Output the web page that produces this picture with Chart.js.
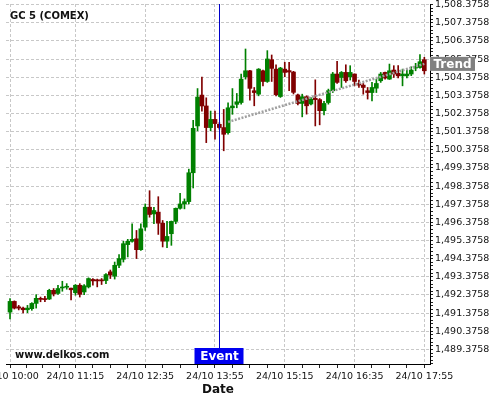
<!DOCTYPE html>
<html>
<head>
<meta charset="utf-8">
<script src="https://cdn.jsdelivr.net/npm/chart.js@4.4.1/dist/chart.umd.min.js"></script>
<style>
  html, body { margin: 0; padding: 0; background: #fff; }
</style>
</head>
<body>
<canvas id="chart-candles" width="500" height="400"></canvas>
<script>
// GC 5 (COMEX) - 5 minute candles, 24/10 10:00 -> 17:55
var startMinute = 600;
var stepMinutes = 5;

var opens = [
  1491.43, 1492.02, 1491.72, 1491.65, 1491.56, 1491.62, 1491.91, 1492.19, 1492.15, 1492.15,
  1492.63, 1492.46, 1492.76, 1492.80, 1492.75, 1492.50, 1492.91, 1492.54, 1492.82, 1493.23,
  1493.21, 1493.21, 1493.17, 1493.65, 1493.41, 1494.01, 1494.34, 1495.15, 1495.33, 1495.47,
  1494.87, 1496.11, 1497.21, 1496.84, 1496.94, 1496.33, 1495.34, 1495.75, 1496.43, 1497.15,
  1497.39, 1497.52, 1499.11, 1501.69, 1503.39, 1502.79, 1501.60, 1502.05, 1501.78, 1501.60,
  1501.32, 1502.69, 1502.88, 1502.98, 1504.40, 1504.73, 1503.63, 1503.44, 1504.73, 1504.14,
  1505.34, 1504.82, 1503.31, 1504.82, 1504.74, 1504.66, 1503.40, 1502.93, 1503.30, 1502.90,
  1503.21, 1503.14, 1502.53, 1502.98, 1503.63, 1504.55, 1504.36, 1504.64, 1504.40, 1504.55,
  1504.03, 1503.94, 1503.63, 1503.53, 1503.77, 1504.18, 1504.64, 1504.27, 1504.77, 1504.60,
  1504.45, 1504.45, 1504.55, 1504.88, 1504.91, 1505.34
];
var highs = [
  1492.17, 1492.05, 1491.80, 1491.71, 1491.80, 1491.95, 1492.39, 1492.26, 1492.30, 1492.69,
  1492.73, 1492.91, 1493.13, 1493.00, 1492.76, 1492.95, 1493.00, 1492.95, 1493.32, 1493.28,
  1493.25, 1493.28, 1493.56, 1493.75, 1494.19, 1494.60, 1495.33, 1495.44, 1496.30, 1495.93,
  1496.30, 1497.39, 1498.12, 1497.21, 1497.79, 1496.48, 1496.43, 1496.45, 1497.17, 1497.98,
  1497.67, 1499.31, 1502.00, 1503.75, 1504.38, 1503.24, 1502.51, 1502.51, 1501.87, 1502.60,
  1502.97, 1503.75, 1503.48, 1504.55, 1505.93, 1504.75, 1503.81, 1504.85, 1504.77, 1505.84,
  1505.60, 1505.06, 1504.92, 1505.20, 1505.20, 1504.70, 1503.45, 1503.44, 1503.35, 1503.25,
  1504.23, 1503.20, 1503.05, 1503.72, 1504.64, 1505.25, 1504.69, 1505.06, 1505.01, 1504.56,
  1504.22, 1504.03, 1503.81, 1504.09, 1504.27, 1504.64, 1504.66, 1505.10, 1505.01, 1505.01,
  1504.82, 1504.77, 1504.95, 1505.14, 1505.62, 1505.47
];
var lows = [
  1491.06, 1491.60, 1491.55, 1491.39, 1491.40, 1491.53, 1491.65, 1492.00, 1492.00, 1492.12,
  1492.32, 1492.40, 1492.58, 1492.69, 1492.10, 1492.36, 1492.26, 1492.39, 1492.76, 1492.91,
  1492.82, 1492.95, 1493.00, 1493.28, 1493.25, 1493.88, 1494.19, 1494.47, 1495.29, 1494.38,
  1494.83, 1495.93, 1496.66, 1496.30, 1495.71, 1495.02, 1494.98, 1495.11, 1496.30, 1497.10,
  1497.12, 1497.39, 1498.27, 1501.42, 1502.51, 1500.77, 1501.42, 1500.96, 1501.51, 1500.32,
  1501.23, 1502.33, 1502.69, 1502.89, 1504.27, 1503.11, 1502.80, 1503.35, 1503.90, 1504.09,
  1504.14, 1503.35, 1503.26, 1504.40, 1503.64, 1503.45, 1502.85, 1502.19, 1502.34, 1502.85,
  1501.69, 1501.75, 1502.30, 1502.89, 1503.53, 1504.03, 1503.81, 1504.09, 1504.22, 1503.90,
  1503.81, 1503.44, 1503.17, 1503.07, 1503.53, 1504.09, 1504.27, 1504.25, 1504.36, 1504.33,
  1503.90, 1504.33, 1504.46, 1504.73, 1504.88, 1504.55
];
var closes = [
  1492.02, 1491.65, 1491.65, 1491.56, 1491.65, 1491.91, 1492.19, 1492.13, 1492.12, 1492.63,
  1492.43, 1492.73, 1492.79, 1492.85, 1492.66, 1492.91, 1492.41, 1492.88, 1493.28, 1493.15,
  1493.15, 1493.15, 1493.50, 1493.47, 1494.01, 1494.38, 1495.20, 1495.33, 1495.44, 1494.87,
  1496.02, 1497.21, 1496.81, 1497.03, 1496.33, 1495.34, 1495.60, 1496.43, 1497.15, 1497.39,
  1497.52, 1499.11, 1501.56, 1503.28, 1502.79, 1501.60, 1502.05, 1501.82, 1501.60, 1501.23,
  1502.69, 1502.79, 1503.02, 1504.27, 1504.73, 1503.76, 1503.53, 1504.82, 1504.14, 1505.38,
  1504.86, 1503.41, 1504.88, 1504.64, 1504.66, 1503.54, 1502.93, 1503.30, 1502.80, 1503.17,
  1503.14, 1502.53, 1502.93, 1503.63, 1504.55, 1504.09, 1504.64, 1504.18, 1504.64, 1504.14,
  1503.94, 1503.81, 1503.53, 1503.81, 1504.03, 1504.55, 1504.33, 1504.73, 1504.55, 1504.45,
  1504.55, 1504.55, 1504.77, 1504.95, 1505.23, 1504.73
];

// trend line (minutes from midnight, price)
var trendMinutes = [850, 1075];
var trendPrices = [1501.91, 1505.11];

var eventMinute = 840;

// axis ticks
var timeTicks = [600, 675, 755, 835, 915, 995, 1075];
var priceTicks = [
  1489.3758, 1490.3758, 1491.3758, 1492.3758, 1493.3758, 1494.3758, 1495.3758,
  1496.3758, 1497.3758, 1498.3758, 1499.3758, 1500.3758, 1501.3758, 1502.3758,
  1503.3758, 1504.3758, 1505.3758, 1506.3758, 1507.3758, 1508.3758
];

var GREEN = '#008000';
var RED = '#800000';

function pad2(n) { return (n < 10 ? '0' : '') + n; }
function fmtTime(m) { return '24/10 ' + pad2(Math.floor(m / 60)) + ':' + pad2(Math.round(m % 60)); }
function fmtPrice(v) {
  var s = v.toFixed(4);
  var parts = s.split('.');
  return parts[0].replace(/\B(?=(\d{3})+(?!\d))/g, ',') + '.' + parts[1];
}
function isMajorTime(v) { return timeTicks.indexOf(Math.round(v)) >= 0 && Math.abs(v - Math.round(v)) < 0.01; }
function isMajorPrice(v) {
  for (var i = 0; i < priceTicks.length; i++) {
    if (Math.abs(priceTicks[i] - v) < 0.001) return true;
  }
  return false;
}

// minor ticks: 3 between each pair of labelled times, every 0.2 on price
var xTickValues = [];
for (var i = 0; i < timeTicks.length; i++) {
  xTickValues.push(timeTicks[i]);
  if (i < timeTicks.length - 1) {
    var gap = (timeTicks[i + 1] - timeTicks[i]) / 4;
    for (var k = 1; k < 4; k++) xTickValues.push(timeTicks[i] + gap * k);
  }
}
var yTickValues = [];
for (var p = 0; p <= 99; p++) yTickValues.push(1488.5758 + p * 0.2);

var times = opens.map(function(o, i) { return startMinute + stepMinutes * i; });
var candleColors = opens.map(function(o, i) { return closes[i] >= o ? GREEN : RED; });

var wickData = times.map(function(t, i) { return { x: t, y: [lows[i], highs[i]] }; });
var bodyData = times.map(function(t, i) { return { x: t, y: [opens[i], closes[i]] }; });
var trendData = trendMinutes.map(function(t, i) { return { x: t, y: trendPrices[i] }; });

var overlayPlugin = {
  id: 'overlay',
  afterDraw: function(chart) {
    var ctx = chart.ctx;
    var area = chart.chartArea;
    var xs = chart.scales.x;
    var ys = chart.scales.y;
    ctx.save();

    // title & watermark
    ctx.fillStyle = '#111';
    ctx.font = 'bold 10px "DejaVu Sans"';
    ctx.textAlign = 'left';
    ctx.textBaseline = 'alphabetic';
    ctx.fillText('GC 5 (COMEX)', 10, 19);
    ctx.fillText('www.delkos.com', 15, 358);

    // event marker
    var ex = Math.round(xs.getPixelForValue(eventMinute)) + 0.5;
    ctx.strokeStyle = '#0000c8';
    ctx.lineWidth = 1;
    ctx.beginPath();
    ctx.moveTo(ex, area.top);
    ctx.lineTo(ex, area.bottom - 16);
    ctx.stroke();
    ctx.fillStyle = '#0000f0';
    ctx.fillRect(ex - 25, area.bottom - 16, 49, 16);
    ctx.fillStyle = '#fff';
    ctx.font = 'bold 12px "DejaVu Sans"';
    ctx.textAlign = 'center';
    ctx.textBaseline = 'middle';
    ctx.fillText('Event', ex, area.bottom - 7.5);

    // trend label
    var ty = ys.getPixelForValue(trendPrices[trendPrices.length - 1]);
    ctx.fillStyle = '#808080';
    ctx.fillRect(area.right, ty - 7, 45, 14);
    ctx.fillStyle = '#fff';
    ctx.textAlign = 'left';
    ctx.fillText('Trend', area.right + 3.5, ty + 0.5);

    ctx.restore();
  }
};

var tickFont = { family: 'DejaVu Sans', size: 9.5 };

new Chart(document.getElementById('chart-candles').getContext('2d'), {
  type: 'bar',
  data: {
    datasets: [{
      type: 'line',
      label: 'Trend',
      data: trendData,
      borderColor: '#a0a0a0',
      borderWidth: 2.5,
      borderDash: [2, 1.5],
      pointRadius: 0,
      fill: false,
      order: 0
    }, {
      label: 'Body',
      data: bodyData,
      backgroundColor: candleColors,
      borderWidth: 0,
      barThickness: 4,
      minBarLength: 1,
      grouped: false,
      order: 1
    }, {
      label: 'Wick',
      data: wickData,
      backgroundColor: candleColors,
      borderWidth: 0,
      barThickness: 1,
      grouped: false,
      order: 2
    }]
  },
  options: {
    responsive: false,
    animation: false,
    layout: { padding: { left: 6, top: 4, right: 0, bottom: 0 } },
    plugins: {
      legend: { display: false },
      tooltip: { enabled: false }
    },
    scales: {
      x: {
        type: 'linear',
        min: 595.4,
        max: 1081.5,
        offset: false,
        afterBuildTicks: function(s) { s.ticks = xTickValues.map(function(v) { return { value: v }; }); },
        afterFit: function(s) { s.height = 36; s.paddingLeft = 0; s.paddingRight = 0; },
        ticks: {
          autoSkip: false,
          maxRotation: 0,
          padding: 3,
          color: '#111',
          font: tickFont,
          callback: function(v) { return isMajorTime(v) ? fmtTime(v) : ''; }
        },
        grid: {
          offset: false,
          lineWidth: 1,
          tickLength: 4,
          tickColor: '#222',
          color: function(c) { return c.tick && isMajorTime(c.tick.value) ? '#c8c8c8' : 'rgba(0,0,0,0)'; }
        },
        border: { display: true, color: '#000', width: 1, dash: [3, 2] },
        title: {
          display: true,
          text: 'Date',
          color: '#111',
          font: { family: 'DejaVu Sans', size: 12, weight: 'bold' },
          padding: { top: 0, bottom: 3 }
        }
      },
      y: {
        type: 'linear',
        position: 'right',
        min: 1488.57,
        max: 1508.41,
        beginAtZero: false,
        afterBuildTicks: function(s) { s.ticks = yTickValues.map(function(v) { return { value: v }; }); },
        afterFit: function(s) { s.width = 70; s.paddingTop = 0; s.paddingBottom = 0; },
        ticks: {
          autoSkip: false,
          padding: 2,
          color: '#111',
          font: tickFont,
          callback: function(v) { return isMajorPrice(v) ? fmtPrice(v) : ''; }
        },
        grid: {
          lineWidth: 1,
          tickLength: 3,
          tickColor: '#222',
          color: function(c) { return c.tick && isMajorPrice(c.tick.value) ? '#c8c8c8' : 'rgba(0,0,0,0)'; }
        },
        border: { display: true, color: '#000', width: 1, dash: [3, 2] }
      }
    }
  },
  plugins: [overlayPlugin]
});
</script>
</body>
</html>
